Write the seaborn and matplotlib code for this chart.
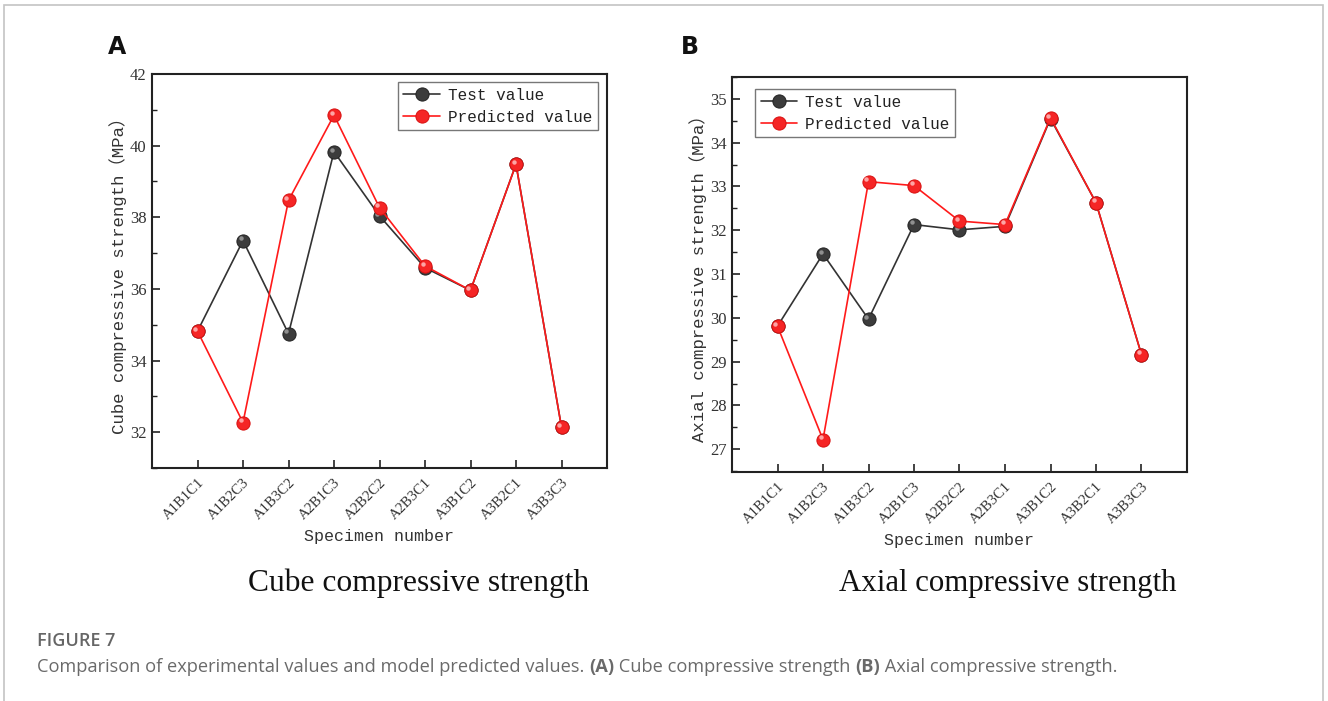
import numpy as np
import pandas as pd
import matplotlib
matplotlib.use("Agg")
import matplotlib.pyplot as plt
import seaborn as sns
from matplotlib.patches import Rectangle
from matplotlib.ticker import MultipleLocator
from matplotlib.transforms import offset_copy

specimens = ["A1B1C1", "A1B2C3", "A1B3C2", "A2B1C3", "A2B2C2",
             "A2B3C1", "A3B1C2", "A3B2C1", "A3B3C3"]

cube_test = [34.82, 37.35, 34.75, 39.83, 38.04, 36.59, 35.96, 39.48, 32.14]
cube_pred = [34.82, 32.27, 38.47, 40.85, 38.27, 36.64, 35.96, 39.48, 32.14]

axial_test = [29.81, 31.46, 29.97, 32.13, 32.01, 32.09, 34.55, 32.63, 29.16]
axial_pred = [29.81, 27.22, 33.11, 33.02, 32.21, 32.13, 34.57, 32.63, 29.16]

legend_labels = ["Test value", "Predicted value"]
subtitles = ["Cube compressive strength", "Axial compressive strength"]
ylabels = ["Cube compressive strength\uff08MPa\uff09",
           "Axial compressive strength\uff08MPa\uff09"]
xlabel = "Specimen number"
panel_letters = ["A", "B"]
caption_head = "FIGURE 7"

sns.set_theme(style="ticks")
plt.rcParams["font.family"] = ["Liberation Mono", "Noto Sans CJK SC", "DejaVu Sans"]

fig = plt.figure(figsize=(13.28, 7.01), dpi=100)

# outer light frame
fig.patches.append(Rectangle((4 / 1328, -0.05), 1322.5 / 1328 - 4 / 1328, 1.05 - 4.5 / 701,
                             transform=fig.transFigure, fill=False,
                             edgecolor="#c4c4c4", linewidth=1.2))

axA = fig.add_axes([152 / 1328, 1 - 468 / 701, 455 / 1328, 394 / 701])
axB = fig.add_axes([732 / 1328, 1 - 472 / 701, 455 / 1328, 395 / 701])

black_line = "#333333"
black_marker = "#3c3c3c"
black_hi = "#9a9a9a"
red_line = "#ff1a1a"
red_marker = "#f52525"
red_hi = "#ffb4b4"

idx = np.arange(len(specimens))

def draw(ax, test, pred, ylim, major, minor, ylab, legend_loc, legend_anchor):
    df = pd.DataFrame({"x": np.concatenate([idx, idx]),
                       "y": np.concatenate([test, pred]),
                       "series": [legend_labels[0]] * len(idx) + [legend_labels[1]] * len(idx)})
    specs = [(legend_labels[0], black_line, black_marker, "#222222", black_hi, 3),
             (legend_labels[1], red_line, red_marker, "#d81010", red_hi, 5)]
    for name, lc, mc, ec, hc, z in specs:
        sub = df[df.series == name]
        sns.lineplot(data=sub, x="x", y="y", ax=ax,
                     color=lc, linewidth=1.2, marker="o", markersize=9.5,
                     markerfacecolor=mc, markeredgecolor=ec,
                     markeredgewidth=0.7, label=name, zorder=z)
        # specular highlight for the sphere look
        ax.plot(sub.x, sub.y, linestyle="none", marker="o", markersize=3.2,
                markerfacecolor=hc, markeredgewidth=0, alpha=0.9, zorder=z + 0.5,
                transform=offset_copy(ax.transData, fig=fig, x=-2.2, y=2.2, units="dots"))
    ax.set_xlim(-1, 9)
    ax.set_ylim(*ylim)
    ax.yaxis.set_major_locator(MultipleLocator(major))
    ax.yaxis.set_minor_locator(MultipleLocator(minor))
    ax.set_xticks(idx)
    ax.set_xticklabels(specimens, rotation=45, ha="right", rotation_mode="anchor",
                       family=["Liberation Serif"], fontsize=10.5, color="#333333")
    for t in ax.get_yticklabels():
        t.set_family(["Liberation Serif"])
        t.set_fontsize(12)
        t.set_color("#333333")
    ax.tick_params(axis="both", which="major", direction="in", length=6, width=1.2,
                   color="#222222", top=False, right=False)
    ax.tick_params(axis="y", which="minor", direction="in", length=3.5, width=1.0,
                   color="#222222", right=False)
    ax.tick_params(axis="x", which="major", pad=6)
    ax.tick_params(axis="y", which="major", pad=4)
    for s in ax.spines.values():
        s.set_visible(True)
        s.set_linewidth(1.5)
        s.set_color("#222222")
    ax.set_xlabel(xlabel, fontsize=12, color="#333333", labelpad=5)
    ax.set_ylabel(ylab, fontsize=12.5, color="#333333", labelpad=2)
    leg = ax.legend(loc=legend_loc, bbox_to_anchor=legend_anchor, frameon=True,
                    fancybox=False, edgecolor="#555555", fontsize=11.5,
                    handlelength=2.3, handletextpad=0.5, borderpad=0.35,
                    labelspacing=0.45, borderaxespad=0)
    leg.get_frame().set_linewidth(1.0)
    for t in leg.get_texts():
        t.set_color("#222222")

draw(axA, cube_test, cube_pred, (31.0, 42.0), 2, 1, ylabels[0],
     "upper right", ((598 - 152) / 455, (468 - 82) / 394))
draw(axB, axial_test, axial_pred, (26.48, 35.5), 1, 0.5, ylabels[1],
     "upper left", ((755 - 732) / 455, (472 - 89) / 395))

# panel letters
fig.text(108 / 1328, 1 - 47 / 701, panel_letters[0], family=["DejaVu Sans"],
         fontweight="bold", fontsize=17, va="center", ha="left", color="#111111")
fig.text(681 / 1328, 1 - 47 / 701, panel_letters[1], family=["DejaVu Sans"],
         fontweight="bold", fontsize=17, va="center", ha="left", color="#111111")

# subtitles
fig.text(419 / 1328, 1 - 583 / 701, subtitles[0], family=["Liberation Serif"],
         fontsize=22.7, ha="center", va="center", color="#111111")
fig.text(1008 / 1328, 1 - 584 / 701, subtitles[1], family=["Liberation Serif"],
         fontsize=22.2, ha="center", va="center", color="#111111")

# caption
fig.text(37 / 1328, 1 - 641 / 701, caption_head, family=["Open Sans"],
         fontweight="semibold", fontsize=13, ha="left", va="center", color="#666666")
cap_parts = [("Comparison of experimental values and model predicted values. ", "normal"),
             ("(A)", "bold"), (" Cube compressive strength ", "normal"),
             ("(B)", "bold"), (" Axial compressive strength.", "normal")]
fig.canvas.draw()
renderer = fig.canvas.get_renderer()
xpos = 37 / 1328
for txt, w in cap_parts:
    t = fig.text(xpos, 1 - 667 / 701, txt, family=["Open Sans"], fontweight=w,
                 fontsize=13.15, ha="left", va="center", color="#6a6a6a")
    bb = t.get_window_extent(renderer=renderer)
    xpos += bb.width / fig.bbox.width

fig.savefig("out.png", dpi=100)
